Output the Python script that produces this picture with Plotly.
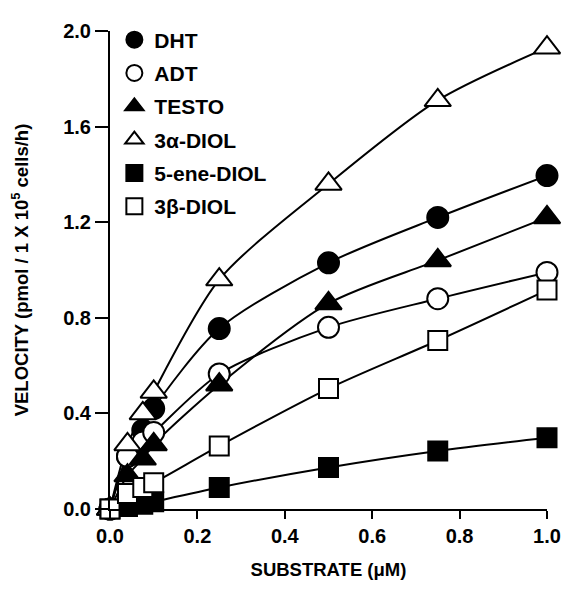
import plotly.graph_objects as go

# Substrate concentrations (uM)
substrate = [0, 0.04, 0.075, 0.1, 0.25, 0.5, 0.75, 1.0]

# Velocities (pmol / 1x10^5 cells / h)
dht = [0, 0.22, 0.33, 0.42, 0.755, 1.03, 1.22, 1.395]
adt = [0, 0.22, 0.28, 0.32, 0.565, 0.76, 0.88, 0.99]
testo = [0, 0.14, 0.21, 0.27, 0.52, 0.86, 1.04, 1.22]
diol3a = [0, 0.27, 0.40, 0.49, 0.96, 1.36, 1.71, 1.93]
ene5diol = [0, 0.01, 0.02, 0.03, 0.09, 0.174, 0.243, 0.298]
diol3b = [0, 0.065, 0.09, 0.11, 0.264, 0.504, 0.705, 0.916]

series_names = ["DHT", "ADT", "TESTO", "3\u03b1-DIOL", "5-ene-DIOL", "3\u03b2-DIOL"]
series_values = [dht, adt, testo, diol3a, ene5diol, diol3b]
symbols = ["circle", "circle-open", "triangle-up", "triangle-up-open", "square", "square-open"]

FONT = "Liberation Sans, Arial, sans-serif"

fig = go.Figure()

# Curves first (underneath markers)
for name, vals in zip(series_names, series_values):
    fig.add_trace(go.Scatter(
        x=substrate, y=vals, mode="lines",
        line=dict(color="black", width=2, shape="spline", smoothing=0.8),
        showlegend=False, hoverinfo="skip", cliponaxis=False,
    ))

sizes = {"circle": 21, "circle-open": 21, "triangle-up": 23, "triangle-up-open": 23,
         "square": 19, "square-open": 19}

for i, (name, vals, sym) in enumerate(zip(series_names, series_values, symbols)):
    is_open = sym.endswith("-open")
    base = sym.replace("-open", "")
    fig.add_trace(go.Scatter(
        x=substrate, y=vals, mode="markers", name=name,
        legendgroup=f"g{i}",
        marker=dict(symbol=base, size=sizes[sym],
                    color="white" if is_open else "black",
                    line=dict(color="black", width=2)),
        cliponaxis=False,
    ))

fig.update_layout(
    width=565, height=585,
    margin=dict(l=100, r=18, t=16, b=84),
    paper_bgcolor="white", plot_bgcolor="white",
    font=dict(family=FONT, color="black", size=18, weight="bold"),
    legend=dict(
        x=0.01, y=1.024, xanchor="left", yanchor="top",
        font=dict(size=21, family=FONT, weight="bold"),
        bgcolor="rgba(0,0,0,0)", tracegroupgap=3,
        itemsizing="trace",
    ),
    xaxis=dict(
        range=[0, 1.0], dtick=0.2, tick0=0, tickformat=".1f",
        showline=True, linecolor="black", linewidth=2,
        ticks="outside", ticklen=8, tickwidth=2, tickcolor="black",
        showgrid=False, zeroline=False,
        tickfont=dict(size=20, family=FONT, weight="bold"),
        title=dict(text="SUBSTRATE (\u03bcM)", font=dict(size=18.5, family=FONT, weight="bold"), standoff=17),
    ),
    yaxis=dict(
        range=[0, 2.0], dtick=0.4, tick0=0, tickformat=".1f",
        showline=True, linecolor="black", linewidth=2,
        ticks="outside", ticklen=13, tickwidth=2, tickcolor="black",
        showgrid=False, zeroline=False,
        tickfont=dict(size=20, family=FONT, weight="bold"),
        title=dict(text="VELOCITY (pmol / 1 X 10<sup>5</sup> cells/h)",
                   font=dict(size=18.5, family=FONT, weight="bold"), standoff=30),
    ),
)

fig.write_html("out.html")
